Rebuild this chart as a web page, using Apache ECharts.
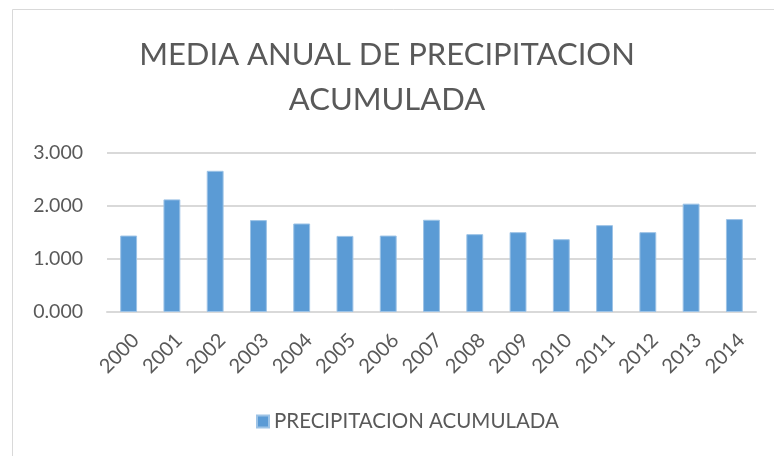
<!DOCTYPE html>
<html>
<head>
<meta charset="utf-8">
<script src="https://cdn.jsdelivr.net/npm/echarts@6/dist/echarts.min.js"></script>
<style>html,body{margin:0;padding:0;background:#fff}#c{width:774px;height:456px}</style>
</head>
<body>
<div id="c"></div>
<script>
const titleText = "MEDIA ANUAL DE PRECIPITACION\nACUMULADA";
const seriesName = "PRECIPITACION ACUMULADA";
const years = ["2000","2001","2002","2003","2004","2005","2006","2007","2008","2009","2010","2011","2012","2013","2014"];
const precip = [1442,2125,2664,1734,1670,1436,1442,1740,1469,1507,1374,1639,1507,2044,1753];
const yTicks = [0,1000,2000,3000];

function fmt(v){
  return String(Math.floor(v/1000)) + "." + String(Math.round(v%1000)).padStart(3,"0");
}

const chart = echarts.init(document.getElementById('c'), null, {renderer:'canvas'});
const font = 'Lato, "Open Sans", sans-serif';
chart.setOption({
  animation:false,
  backgroundColor:'#ffffff',
  graphic:[{type:'rect',shape:{x:12.5,y:9.5,width:800,height:500},style:{fill:'none',stroke:'#D9D9D9',lineWidth:1},silent:true,z:-1}],
  title:{
    text:titleText,
    left:'center',
    top:27,
    textStyle:{fontFamily:font,fontSize:31,fontWeight:'normal',color:'#595959',lineHeight:45}
  },
  legend:{
    data:[seriesName],
    bottom:19,
    left:251,
    icon:'rect',
    itemWidth:12,itemHeight:12,itemGap:8,
    textStyle:{fontFamily:font,fontSize:20.5,color:'#595959'}
  },
  grid:{left:107,right:18,top:153,bottom:144,containLabel:false},
  xAxis:{
    type:'category',
    data:years,
    axisLine:{show:true,lineStyle:{color:'#D9D9D9',width:2}},
    axisTick:{show:false},
    axisLabel:{rotate:45,fontFamily:font,fontSize:20,color:'#595959',margin:18,interval:0,verticalAlign:'top',align:'right'}
  },
  yAxis:{
    type:'value',
    min:yTicks[0],max:yTicks[yTicks.length-1],interval:1000,
    axisLine:{show:false},axisTick:{show:false},
    splitLine:{lineStyle:{color:'#D9D9D9',width:2}},
    axisLabel:{fontFamily:font,fontSize:19.5,color:'#595959',margin:24,formatter:fmt}
  },
  series:[{
    name:seriesName,
    type:'bar',
    data:precip,
    barWidth:'39%',
    itemStyle:{color:'#5B9BD5',borderColor:'#9DC3E6',borderWidth:1}
  }]
});
</script>
</body>
</html>
